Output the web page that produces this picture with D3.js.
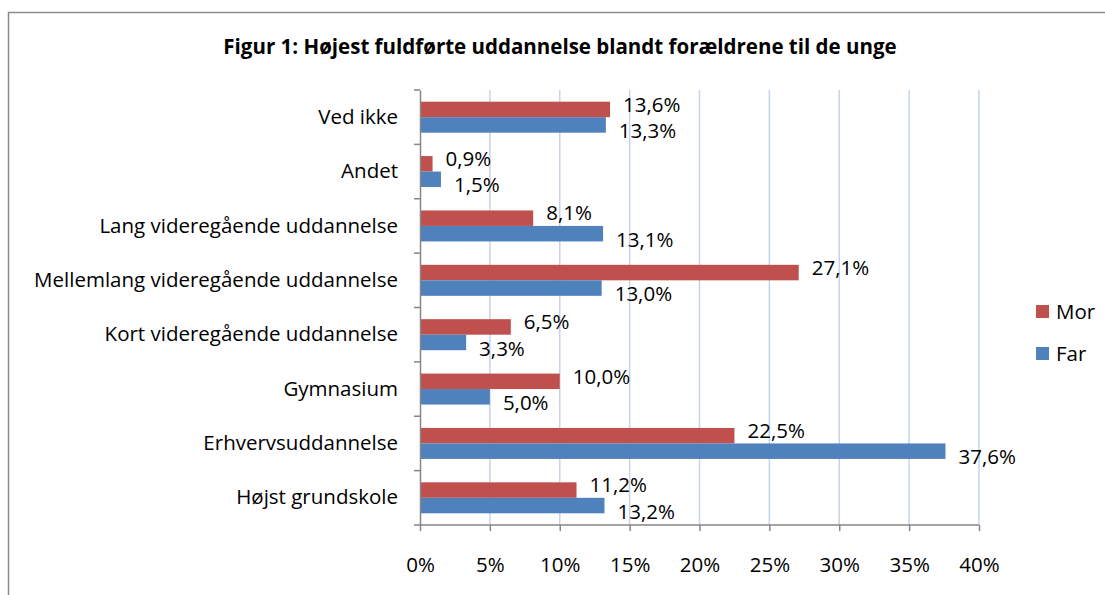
<!DOCTYPE html>
<html>
<head>
<meta charset="utf-8">
<script src="https://cdn.jsdelivr.net/npm/d3@7"></script>
<style>
  body { margin: 0; background: #fff; }
  text { font-family: "Open Sans", sans-serif; fill: #000; }
</style>
</head>
<body>
<div id="chart"></div>
<script>
// categories top to bottom
const categories = [
    "Ved ikke",
    "Andet",
    "Lang videregående uddannelse",
    "Mellemlang videregående uddannelse",
    "Kort videregående uddannelse",
    "Gymnasium",
    "Erhvervsuddannelse",
    "Højst grundskole"
];
const mor = [13.6, 0.9, 8.1, 27.1, 6.5, 10.0, 22.5, 11.2];
const far = [13.3, 1.5, 13.1, 13.0, 3.3, 5.0, 37.6, 13.2];
const seriesNames = ["Mor", "Far"];
const xTicks = [0, 5, 10, 15, 20, 25, 30, 35, 40];
const title = "Figur 1: Højest fuldførte uddannelse blandt forældrene til de unge";

const W = 1105, H = 595;
const colors = { Mor: "#c0504d", Far: "#4f81bd" };
const fontSize = "20.5px";

const rows = categories.map((c, i) => ({ cat: c, Mor: mor[i], Far: far[i] }));

const svg = d3.select("#chart").append("svg")
    .attr("width", W)
    .attr("height", H);

// outer frame (runs off the right and bottom edge)
svg.append("rect")
    .attr("x", 8.5).attr("y", 12.5)
    .attr("width", W + 20).attr("height", H + 20)
    .attr("fill", "none")
    .attr("stroke", "#8c8c8c")
    .attr("stroke-width", 1.5);

svg.append("text")
    .attr("x", 560)
    .attr("y", 54)
    .attr("text-anchor", "middle")
    .style("font-weight", "bold")
    .style("font-size", "20.5px")
    .text(title);

const plot = { left: 420, right: 979, top: 90, bottom: 525 };

const x = d3.scaleLinear()
    .domain([0, 40])
    .range([plot.left, plot.right]);

const y = d3.scaleBand()
    .domain(categories)
    .range([plot.top, plot.bottom])
    .paddingInner(0.43)
    .paddingOuter(0.215);

const ySub = d3.scaleBand()
    .domain(seriesNames)
    .range([0, y.bandwidth()]);

// gridlines
svg.append("g")
    .selectAll("line")
    .data(xTicks.slice(1))
    .enter()
    .append("line")
    .attr("x1", d => x(d)).attr("x2", d => x(d))
    .attr("y1", plot.top).attr("y2", plot.bottom)
    .attr("stroke", "#c5d4ec")
    .attr("stroke-width", 1.5);

// bars
const groups = svg.append("g")
    .selectAll("g")
    .data(rows)
    .enter()
    .append("g")
    .attr("transform", d => `translate(0,${y(d.cat)})`);

groups.selectAll("rect")
    .data(d => seriesNames.map(s => ({ s, v: d[s] })))
    .enter()
    .append("rect")
    .attr("x", x(0))
    .attr("y", d => ySub(d.s))
    .attr("width", d => x(d.v) - x(0))
    .attr("height", ySub.bandwidth())
    .attr("fill", d => colors[d.s]);

const fmt = v => v.toFixed(1).replace(".", ",") + "%";

groups.selectAll("text.val")
    .data(d => seriesNames.map(s => ({ s, v: d[s] })))
    .enter()
    .append("text")
    .attr("class", "val")
    .attr("x", d => x(d.v) + 13)
    .attr("y", d => ySub(d.s) + ySub.bandwidth() / 2 + (d.s === "Mor" ? -5 : 6))
    .attr("dy", "0.35em")
    .style("font-size", fontSize)
    .text(d => fmt(d.v));

// y axis
const yAxis = svg.append("g")
    .attr("transform", `translate(${plot.left},0)`)
    .call(d3.axisLeft(y).tickSize(0).tickPadding(22));
yAxis.select(".domain").attr("stroke", "#868686").attr("stroke-width", 1.5);
yAxis.selectAll("text").style("font-size", fontSize).style("font-family", "'Open Sans', sans-serif");

// category separator ticks
const sep = [plot.top].concat(categories.map(c => y(c) - y.step() * y.paddingInner() / 2).slice(1)).concat([plot.bottom]);
svg.append("g")
    .selectAll("line")
    .data(sep)
    .enter()
    .append("line")
    .attr("x1", plot.left - 6).attr("x2", plot.left)
    .attr("y1", d => d).attr("y2", d => d)
    .attr("stroke", "#868686")
    .attr("stroke-width", 1.5);

// x axis
const xAxis = svg.append("g")
    .attr("transform", `translate(0,${plot.bottom})`)
    .call(d3.axisBottom(x).tickValues(xTicks).tickSize(6).tickPadding(26).tickFormat(d => d + "%"));
xAxis.select(".domain").attr("stroke", "#868686").attr("stroke-width", 1.5).attr("d", `M${plot.left},0H${plot.right}`);
xAxis.selectAll(".tick line").attr("stroke", "#868686").attr("stroke-width", 1.5);
xAxis.selectAll("text").style("font-size", fontSize).style("font-family", "'Open Sans', sans-serif");

// legend
const legend = svg.append("g")
    .selectAll("g")
    .data(seriesNames)
    .enter()
    .append("g")
    .attr("transform", (d, i) => `translate(1036,${305 + i * 42})`);
legend.append("rect")
    .attr("width", 13).attr("height", 13)
    .attr("fill", d => colors[d]);
legend.append("text")
    .attr("x", 20).attr("y", 6.5)
    .attr("dy", "0.35em")
    .style("font-size", fontSize)
    .text(d => d);
</script>
</body>
</html>
